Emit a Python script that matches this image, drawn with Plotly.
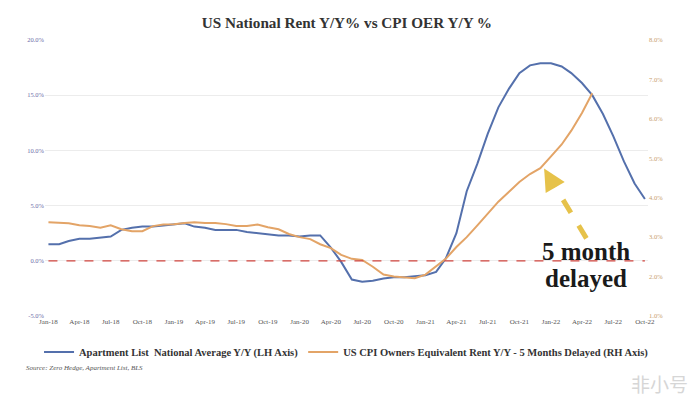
import plotly.graph_objects as go
import pandas as pd

# ---- data ----
months = pd.date_range("2018-01-01", "2022-10-01", freq="MS")

apartment_list_yoy = [1.5, 1.5, 1.8, 2.0, 2.0, 2.1, 2.2, 2.8, 3.0, 3.1,
                      3.1, 3.2, 3.3, 3.4, 3.1, 3.0, 2.8, 2.8, 2.8, 2.6,
                      2.5, 2.4, 2.3, 2.3, 2.2, 2.3, 2.3, 1.2, -0.1, -1.7,
                      -1.9, -1.8, -1.6, -1.5, -1.5, -1.4, -1.3, -1.0, 0.2, 2.5,
                      6.3, 8.8, 11.5, 13.9, 15.6, 17.0, 17.7, 17.9, 17.9, 17.6,
                      17.0, 16.1, 15.0, 13.3, 11.3, 9.0, 7.0, 5.6]

cpi_oer_delayed = [3.38, 3.36, 3.35, 3.30, 3.28, 3.24, 3.30, 3.20, 3.15, 3.15,
                   3.28, 3.32, 3.33, 3.36, 3.38, 3.36, 3.36, 3.33, 3.28, 3.28,
                   3.32, 3.25, 3.20, 3.08, 3.00, 2.95, 2.82, 2.72, 2.55, 2.45,
                   2.42, 2.25, 2.05, 2.00, 1.97, 1.96, 2.05, 2.25, 2.45, 2.75,
                   3.00, 3.30, 3.60, 3.90, 4.15, 4.40, 4.60, 4.75, 5.05, 5.35,
                   5.70, 6.15, 6.65]

x_tick_labels = ["Jan-18", "Apr-18", "Jul-18", "Oct-18", "Jan-19", "Apr-19", "Jul-19",
                 "Oct-19", "Jan-20", "Apr-20", "Jul-20", "Oct-20", "Jan-21", "Apr-21",
                 "Jul-21", "Oct-21", "Jan-22", "Apr-22", "Jul-22", "Oct-22"]
x_tick_vals = months[::3]

left_ticks = [-5, 0, 5, 10, 15, 20]
right_ticks = [1, 2, 3, 4, 5, 6, 7, 8]
zero_level = 0

# annotation arrow: tip on the OER line, tail near the label
arrow_tip = (pd.Timestamp("2021-12-12"), 4.74)
arrow_tail = (pd.Timestamp("2022-04-14"), 2.97)
label_x = pd.Timestamp("2022-04-12")

BLUE = "#5470AC"
ORANGE = "#E3A467"
SERIF = "Liberation Serif"

fig = go.Figure()
fig.add_trace(go.Scatter(
    x=months[:len(apartment_list_yoy)], y=apartment_list_yoy,
    name="Apartment List  National Average Y/Y (LH Axis)",
    mode="lines", line=dict(color=BLUE, width=2), yaxis="y"))
fig.add_trace(go.Scatter(
    x=months[:len(cpi_oer_delayed)], y=cpi_oer_delayed,
    name="US CPI Owners Equivalent Rent Y/Y - 5 Months Delayed (RH Axis)",
    mode="lines", line=dict(color=ORANGE, width=2), yaxis="y2"))

# red dashed zero line
fig.add_shape(type="line", xref="x", yref="y",
              x0=months[0], x1=months[-1], y0=zero_level, y1=zero_level,
              line=dict(color="#D0443E", width=1.2, dash="dash"), layer="above")

# dashed gold arrow
fig.add_shape(type="line", xref="x", yref="y2",
              x0=arrow_tail[0], y0=arrow_tail[1], x1=arrow_tip[0], y1=arrow_tip[1],
              line=dict(color="#E6C24A", width=5, dash="dash"), layer="above")
fig.add_annotation(x=arrow_tip[0], y=arrow_tip[1], xref="x", yref="y2",
                   ax=7, ay=12, axref="pixel", ayref="pixel", text="",
                   showarrow=True, arrowhead=2, arrowsize=1.1, arrowwidth=4,
                   arrowcolor="#E6C24A")

fig.add_annotation(x=label_x, y=2.64, xref="x", yref="y2",
                   text="5 month", showarrow=False,
                   font=dict(family=SERIF, size=25, color="#1a1a1a", weight="bold"))
fig.add_annotation(x=label_x, y=1.95, xref="x", yref="y2",
                   text="delayed", showarrow=False,
                   font=dict(family=SERIF, size=25, color="#1a1a1a", weight="bold"))

fig.add_annotation(x=-0.035, y=-0.19, xref="paper", yref="paper",
                   xanchor="left", yanchor="middle",
                   text="Source: Zero Hedge, Apartment List, BLS", showarrow=False,
                   font=dict(family=SERIF, size=7, color="#555", style="italic"))

fig.add_annotation(x=1.07, y=-0.245, xref="paper", yref="paper",
                   xanchor="right", yanchor="middle", text="非小号", showarrow=False,
                   font=dict(family="Noto Sans CJK SC", size=19, color="#d6d6d6"))

fig.update_layout(
    width=698, height=397,
    margin=dict(l=45, r=50, t=40, b=81),
    paper_bgcolor="white", plot_bgcolor="white",
    title=dict(text="US National Rent Y/Y% vs CPI OER Y/Y %", x=0.497, xanchor="center",
               y=0.942, yanchor="middle",
               font=dict(family=SERIF, size=15.2, color="#333", weight="bold")),
    xaxis=dict(range=[pd.Timestamp("2017-12-22"), pd.Timestamp("2022-10-10")],
               tickvals=x_tick_vals, ticktext=x_tick_labels, showgrid=False,
               showline=False, zeroline=False, ticks="",
               tickfont=dict(family=SERIF, size=7, color="#555")),
    yaxis=dict(range=[-5, 20], tickvals=left_ticks,
               ticktext=[f"{v:.1f}%" for v in left_ticks],
               showgrid=True, gridcolor="#ececec", gridwidth=1, zeroline=False,
               tickfont=dict(family=SERIF, size=6.5, color="#6C6CA8")),
    yaxis2=dict(range=[1, 8], tickvals=right_ticks,
                ticktext=[f"{v:.1f}%" for v in right_ticks],
                overlaying="y", side="right", showgrid=False, zeroline=False,
                tickfont=dict(family=SERIF, size=6.5, color="#C79E6C")),
    legend=dict(orientation="h", x=1.01, xanchor="right", y=-0.13, yanchor="middle",
                font=dict(family=SERIF, size=10.5, color="#333", weight="bold"),
                itemwidth=30, bgcolor="rgba(0,0,0,0)"),
    showlegend=True,
)

fig.write_html("out.html", config={"displayModeBar": False},
               post_script="document.body.style.margin='0';document.body.style.padding='0';")
